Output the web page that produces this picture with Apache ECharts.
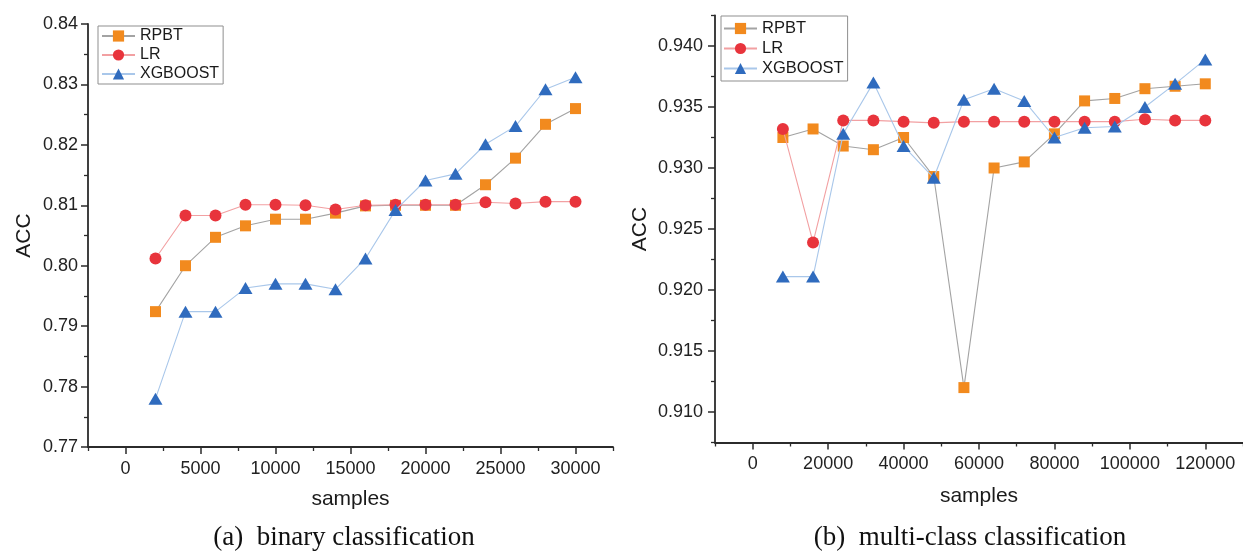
<!DOCTYPE html>
<html>
<head>
<meta charset="utf-8">
<script src="https://cdn.jsdelivr.net/npm/echarts@6/dist/echarts.min.js"></script>
<style>
html,body{margin:0;padding:0;background:#fff;}
#c{width:1243px;height:551px;}
</style>
</head>
<body>
<div id="c"></div>
<script>
// ---- data: (a) binary classification ----
const binSamples = [2000,4000,6000,8000,10000,12000,14000,16000,18000,20000,22000,24000,26000,28000,30000];
const binRPBT = [0.7924,0.8000,0.8047,0.8066,0.8077,0.8077,0.8087,0.8099,0.8100,0.8100,0.8100,0.8134,0.8178,0.8234,0.8260];
const binLR   = [0.8012,0.8083,0.8083,0.8101,0.8101,0.8100,0.8093,0.8100,0.8101,0.8101,0.8101,0.8105,0.8103,0.8106,0.8106];
const binXGB  = [0.7780,0.7924,0.7924,0.7963,0.7970,0.7970,0.7961,0.8012,0.8092,0.8141,0.8152,0.8201,0.8231,0.8292,0.8312];
const binXTicks = [0,5000,10000,15000,20000,25000,30000];
const binXMinor = [-2500,2500,7500,12500,17500,22500,27500,32500];
const binYTicks = [0.77,0.78,0.79,0.80,0.81,0.82,0.83,0.84];
const binYMinor = [0.775,0.785,0.795,0.805,0.815,0.825,0.835];

// ---- data: (b) multi-class classification ----
const mulSamples = [8000,16000,24000,32000,40000,48000,56000,64000,72000,80000,88000,96000,104000,112000,120000];
const mulRPBT = [0.9325,0.9332,0.9318,0.9315,0.9325,0.9293,0.9120,0.9300,0.9305,0.9328,0.9355,0.9357,0.9365,0.9367,0.9369];
const mulLR   = [0.9332,0.9239,0.9339,0.9339,0.9338,0.9337,0.9338,0.9338,0.9338,0.9338,0.9338,0.9338,0.9340,0.9339,0.9339];
const mulXGB  = [0.9211,0.9211,0.9328,0.9370,0.9318,0.9292,0.9356,0.9365,0.9355,0.9325,0.9333,0.9334,0.9350,0.9369,0.9389];
const mulXTicks = [0,20000,40000,60000,80000,100000,120000];
const mulXMinor = [-10000,10000,30000,50000,70000,90000,110000,130000];
const mulYTicks = [0.910,0.915,0.920,0.925,0.930,0.935,0.940];
const mulYMinor = [0.9075,0.9125,0.9175,0.9225,0.9275,0.9325,0.9375,0.9425];

const seriesNames = ['RPBT','LR','XGBOOST'];

const AX = '#2b2b2b';
const FONT = "'Liberation Sans', Arial, sans-serif";
const lbl = {fontFamily: FONT, fontSize: 18, color: '#222'};

function pairs(xs, ys){ return xs.map((x,i)=>[x, ys[i]]); }

function mainX(grid, min, max, ticks, nameGap){
  return {
    type:'value', gridIndex:grid, min:min, max:max, position:'bottom',
    name:'samples', nameLocation:'middle', nameGap:nameGap,
    nameTextStyle:{fontFamily:FONT, fontSize:21, color:'#1a1a1a'},
    axisLine:{show:true, onZero:false, lineStyle:{color:AX, width:1.8}},
    axisTick:{show:true, customValues:ticks, length:7, lineStyle:{color:AX, width:1.5}},
    axisLabel:Object.assign({customValues:ticks, margin:13, formatter:v=>String(v)}, lbl),
    splitLine:{show:false}
  };
}
function minorX(grid, min, max, ticks){
  return {
    type:'value', gridIndex:grid, min:min, max:max, position:'bottom', offset:0,
    axisLine:{show:false, onZero:false},
    axisTick:{show:true, customValues:ticks, length:4, lineStyle:{color:AX, width:1.3}},
    axisLabel:{show:false}, splitLine:{show:false}
  };
}
function mainY(grid, min, max, ticks, digits, nameGap, margin){
  return {
    type:'value', gridIndex:grid, min:min, max:max, position:'left',
    name:'ACC', nameLocation:'middle', nameGap:nameGap,
    nameTextStyle:{fontFamily:FONT, fontSize:21, color:'#1a1a1a'},
    axisLine:{show:true, onZero:false, lineStyle:{color:AX, width:1.8}},
    axisTick:{show:true, customValues:ticks, length:7, lineStyle:{color:AX, width:1.5}},
    axisLabel:Object.assign({customValues:ticks, margin:margin, formatter:v=>v.toFixed(digits)}, lbl),
    splitLine:{show:false}
  };
}
function minorY(grid, min, max, ticks){
  return {
    type:'value', gridIndex:grid, min:min, max:max, position:'left', offset:0,
    axisLine:{show:false, onZero:false},
    axisTick:{show:true, customValues:ticks, length:4, lineStyle:{color:AX, width:1.3}},
    axisLabel:{show:false}, splitLine:{show:false}
  };
}

const styles = [
  {symbol:'rect', symbolSize:11, color:'#F28A1E', line:'#a3a3a3'},
  {symbol:'circle', symbolSize:12, color:'#E8343C', line:'#F2A0A2'},
  {symbol:'triangle', symbolSize:[14,12], color:'#2F6BBE', line:'#A9C7EA'}
];

function mkSeries(grid, xs, ysList){
  return ysList.map((ys,i)=>({
    name: seriesNames[i], type:'line', xAxisIndex: grid*2, yAxisIndex: grid*2,
    data: pairs(xs, ys),
    symbol: styles[i].symbol, symbolSize: styles[i].symbolSize,
    itemStyle:{color: styles[i].color, borderWidth:0},
    lineStyle:{color: styles[i].line, width:1.1},
    z: 2+i, animation:false
  }));
}

function legend(left, top, padding, fontSize){
  return {
    data: seriesNames, orient:'vertical', left:left, top:top,
    itemWidth:33, itemHeight:14, itemGap:3, padding:padding,
    borderColor:'#8f8f8f', borderWidth:1, backgroundColor:'#fff',
    textStyle:{fontFamily:FONT, fontSize:fontSize, lineHeight:14, color:'#1a1a1a'},
    selectedMode:false
  };
}

const chart = echarts.init(document.getElementById('c'));
chart.setOption({
  backgroundColor:'#fff',
  animation:false,
  grid:[
    {left:88, top:24, width:525, height:423},
    {left:715, top:15.5, width:532, height:427}
  ],
  xAxis:[
    mainX(0, -2500, 32500, binXTicks, 42),
    minorX(0, -2500, 32500, binXMinor),
    mainX(1, -10000, 130000, mulXTicks, 43),
    minorX(1, -10000, 130000, mulXMinor)
  ],
  yAxis:[
    mainY(0, 0.77, 0.84, binYTicks, 2, 53, 10),
    minorY(0, 0.77, 0.84, binYMinor),
    mainY(1, 0.9075, 0.9425, mulYTicks, 3, 64, 12),
    minorY(1, 0.9075, 0.9425, mulYMinor)
  ],
  legend:[
    legend(98, 26, [2,4,2,3], 16),
    legend(721, 16, [4,4,4,2], 16.5)
  ],
  series: [].concat(
    mkSeries(0, binSamples, [binRPBT, binLR, binXGB]),
    mkSeries(1, mulSamples, [mulRPBT, mulLR, mulXGB])
  ),
  graphic:[
    {type:'text', x:344, y:538, style:{text:'(a)  binary classification', fontFamily:"'Liberation Serif','Times New Roman',serif", fontSize:27, fill:'#111', textAlign:'center', textVerticalAlign:'middle'}},
    {type:'text', x:970, y:538, style:{text:'(b)  multi-class classification', fontFamily:"'Liberation Serif','Times New Roman',serif", fontSize:27, fill:'#111', textAlign:'center', textVerticalAlign:'middle'}}
  ]
});
</script>
</body>
</html>
